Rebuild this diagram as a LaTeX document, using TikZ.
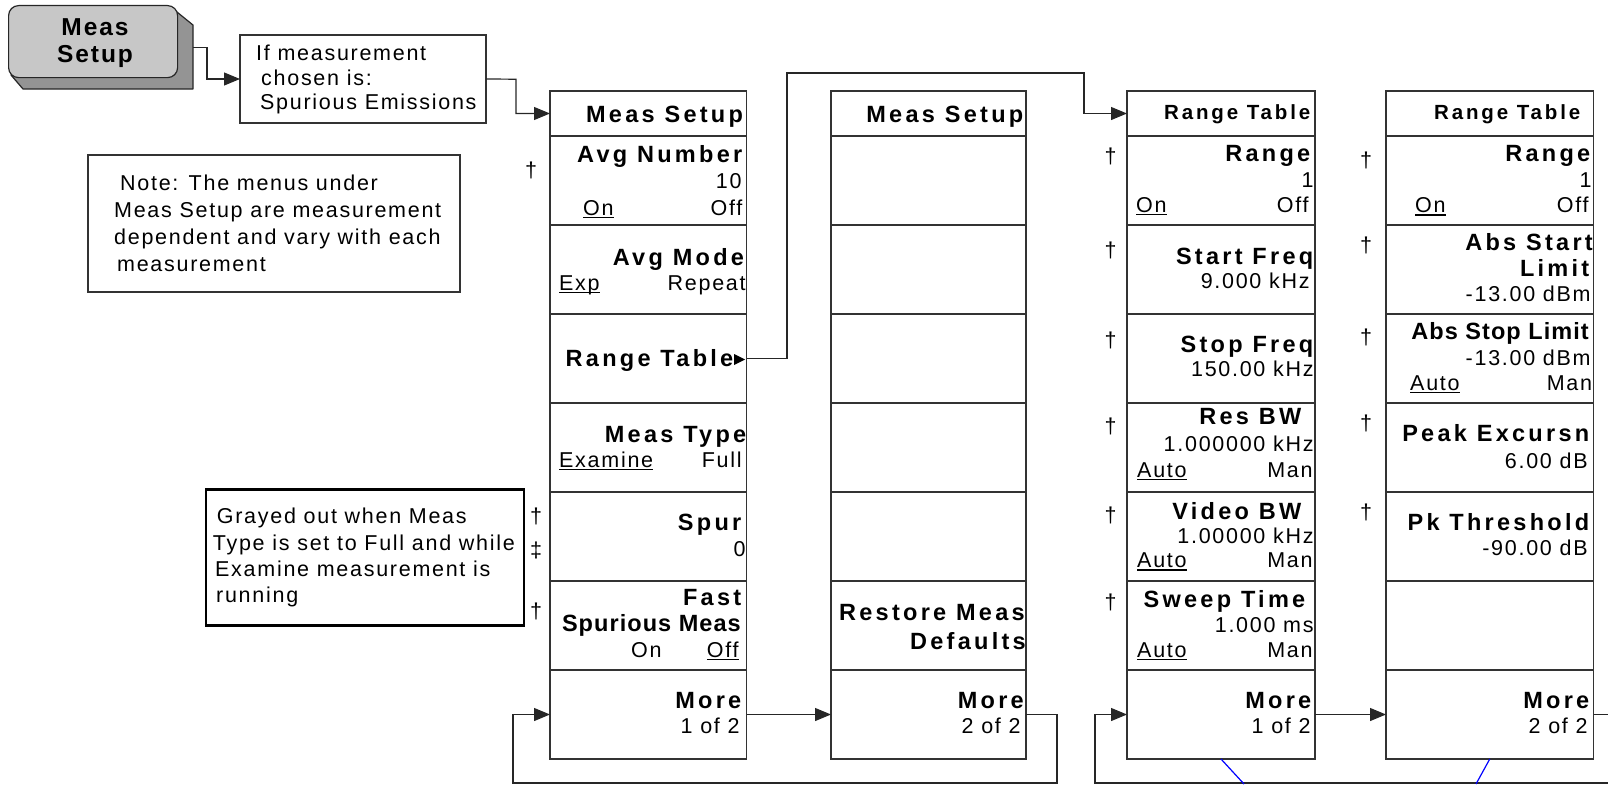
\documentclass[tikz,border=0pt]{standalone}
\usepackage{fontspec}
\setmainfont{Liberation Sans}
\newfontfamily\fB{Liberation Sans}[LetterSpace=14]
\newfontfamily\fBn{Liberation Sans}[LetterSpace=4.5]
\newfontfamily\fK{Liberation Sans}[LetterSpace=8]
\newfontfamily\fR{Liberation Sans}[LetterSpace=8]
\usetikzlibrary{arrows.meta}
\newcommand\ul[1]{\setbox0\hbox{#1}\rlap{\rule[-2.8pt]{\wd0}{1.2pt}}\box0}
\newcommand\menucol[3]{%
  \node[cell, minimum width=#3, minimum height=45] (#1h) at (#2,91) {};
  \foreach \i in {1,...,7} {
    \node[cell, minimum width=#3, minimum height=89] (#1r\i) at (#2,{136+89*(\i-1)}) {};
  }
}
\begin{document}
\begin{tikzpicture}[x=1pt,y=-1pt,
  cell/.style={draw=black!80, line width=1.2pt, fill=white, anchor=north west, inner sep=0pt, outer sep=0pt},
  bt/.style={font=\fB\bfseries\fontsize{23.5}{23.5}\selectfont, anchor=base east, inner sep=0pt, xshift=1.5pt},
  btn/.style={font=\fBn\bfseries\fontsize{23.5}{23.5}\selectfont, anchor=base east, inner sep=0pt, xshift=1pt},
  bts/.style={font=\fB\bfseries\fontsize{20.5}{20.5}\selectfont, anchor=base east, inner sep=0pt, xshift=1.5pt},
  rt/.style={font=\fR\fontsize{21.5}{21.5}\selectfont, anchor=base east, inner sep=0pt, xshift=0.8pt},
  lt/.style={font=\fR\fontsize{21.5}{21.5}\selectfont, anchor=base west, inner sep=0pt},
  dg/.style={font=\fR\fontsize{21.5}{21.5}\selectfont, anchor=base, inner sep=0pt},
  conn/.style={draw=black!85, line width=1.2pt},
  arr/.style={conn, -{Triangle[length=16pt,width=13pt]}},
  box/.style={draw=black!80, line width=1.3pt, fill=white, anchor=north west, inner sep=0pt, outer sep=0pt}
]
\useasboundingbox (0,0) rectangle (1608,784);

% ---- Meas Setup key ----
\filldraw[fill=black!42, draw=black!85, line width=1.2pt, line join=round]
  (172,8) -- (193,25) -- (193,89) -- (23,89) -- (11,75) -- cycle;
\node[draw=black!85, line width=1.2pt, fill=black!22, rounded corners=10pt,
  minimum width=169, minimum height=72, anchor=north west, inner sep=0pt] (key) at (8,5) {};
\node[font=\fK\bfseries\fontsize{24.5}{24.5}\selectfont, anchor=base, inner sep=0pt] (kt1) at (95,36) {Meas};
\node[font=\fK\bfseries\fontsize{24.5}{24.5}\selectfont, anchor=base, inner sep=0pt] (kt2) at (95,62.7) {Setup};
\coordinate (keyout) at (193,47.7);

% ---- condition box ----
\node[box, minimum width=246, minimum height=88] (cond) at (240,35) {};
\node[lt] (cd1) at (256,60.7) {If measurement};
\node[lt] (cd2) at (261,85) {chosen is:};
\node[lt] (cd3) at (260,109) {Spurious Emissions};

% ---- note box ----
\node[box, minimum width=372, minimum height=137] (note) at (88,155) {};
\node[lt] (n1) at (120,190) {Note: The menus under};
\node[lt] (n2) at (114,217) {Meas Setup are measurement};
\node[lt] (n3) at (114,244) {dependent and vary with each};
\node[lt] (n4) at (117,271) {measurement};

% ---- grayed-out box ----
\node[box, draw=black, line width=2.5pt, minimum width=318, minimum height=136] (gray) at (206,489.3) {};
\node[lt] (g1) at (216.7,523) {Grayed out when Meas};
\node[lt] (g2) at (212.7,550) {Type is set to Full and while};
\node[lt] (g3) at (215,576) {Examine measurement is};
\node[lt] (g4) at (216,602) {running};

% ---- menu columns ----
\menucol{c1}{550}{196.5}
\menucol{c2}{831}{195}
\menucol{c3}{1127}{188}
\menucol{c4}{1386}{207.5}

% column 1
\node[bt] (c1t0) at (741.7,122.5) {Meas Setup};
\node[bt] (c1t1) at (741,162.7) {Avg Number};
\node[rt] (c1t2) at (741,188.7) {10};
\node[lt] (c1t3) at (583,215) {\ul{On}};
\node[rt] (c1t4) at (741.7,215) {Off};
\node[bt] (c1t5) at (742.7,265) {Avg Mode};
\node[lt] (c1t6) at (559,290) {\ul{Exp}};
\node[rt] (c1t7) at (745,290) {Repeat};
\node[bt] (c1t8) at (732,366) {Range Table};
\fill (734,354) -- (745,359.5) -- (734,365) -- cycle;
\node[bt] (c1t9) at (745,442) {Meas Type};
\node[lt] (c1t10) at (559,467) {\ul{Examine}};
\node[rt] (c1t11) at (741,467) {Full};
\node[bt] (c1t12) at (740,530.7) {Spur};
\node[rt] (c1t13) at (745,556.7) {0};
\node[bt] (c1t14) at (740,605.7) {Fast};
\node[btn] (c1t15) at (740,631.7) {Spurious Meas};
\node[rt] (c1t16) at (661,657.3) {On};
\node[rt] (c1t17) at (738,657.3) {\ul{Off}};
\node[bt] (c1t18) at (740,708.3) {More};
\node[rt] (c1t19) at (739,733.5) {1 of 2};

% column 2
\node[bt] (c2t0) at (1022,122.5) {Meas Setup};
\node[bt] (c2t1) at (1023.5,620) {Restore Meas};
\node[bt] (c2t2) at (1024.5,649) {Defaults};
\node[bt] (c2t3) at (1022.5,708.3) {More};
\node[rt] (c2t4) at (1020,733.5) {2 of 2};

% column 3
\node[bts] (c3t0) at (1309,119.3) {Range Table};
\node[bt] (c3t1) at (1309,161) {Range};
\node[rt] (c3t2) at (1313,187.3) {1};
\node[lt] (c3t3) at (1136,212) {\ul{On}};
\node[rt] (c3t4) at (1308,212) {Off};
\node[bt] (c3t5) at (1312,264) {Start Freq};
\node[rt] (c3t6) at (1309,288.3) {9.000 kHz};
\node[bt] (c3t7) at (1312,352) {Stop Freq};
\node[rt] (c3t8) at (1313,376.7) {150.00 kHz};
\node[bt] (c3t9) at (1300,424.3) {Res BW};
\node[rt] (c3t10) at (1313,451) {1.000000 kHz};
\node[lt] (c3t11) at (1137,477) {\ul{Auto}};
\node[rt] (c3t12) at (1312,477) {Man};
\node[bt] (c3t13) at (1300,519) {Video BW};
\node[rt] (c3t14) at (1313,543.3) {1.00000 kHz};
\node[lt] (c3t15) at (1137,567.7) {\ul{Auto}};
\node[rt] (c3t16) at (1312,567.7) {Man};
\node[bt] (c3t17) at (1304,607.3) {Sweep Time};
\node[rt] (c3t18) at (1313,632.7) {1.000 ms};
\node[lt] (c3t19) at (1137,657.3) {\ul{Auto}};
\node[rt] (c3t20) at (1312,657.3) {Man};
\node[bt] (c3t21) at (1310,708.3) {More};
\node[rt] (c3t22) at (1310,733.5) {1 of 2};

% column 4
\node[bts] (c4t0) at (1579,119.3) {Range Table};
\node[bt] (c4t1) at (1589,161) {Range};
\node[rt] (c4t2) at (1591,187) {1};
\node[lt] (c4t3) at (1415,212.7) {\ul{On}};
\node[rt] (c4t4) at (1588,212.7) {Off};
\node[bt] (c4t5) at (1591.5,250) {Abs Start};
\node[bt] (c4t6) at (1588,276.7) {Limit};
\node[rt] (c4t7) at (1590,301.7) {-13.00 dBm};
\node[btn] (c4t8) at (1588,339.3) {Abs Stop Limit};
\node[rt] (c4t9) at (1590,365) {-13.00 dBm};
\node[lt] (c4t10) at (1410,390) {\ul{Auto}};
\node[rt] (c4t11) at (1591.5,390) {Man};
\node[bt] (c4t12) at (1588,441) {Peak Excursn};
\node[rt] (c4t13) at (1587,468.3) {6.00 dB};
\node[bt] (c4t14) at (1588,530.7) {Pk Threshold};
\node[rt] (c4t15) at (1587,555) {-90.00 dB};
\node[bt] (c4t16) at (1588,708.3) {More};
\node[rt] (c4t17) at (1587,733.5) {2 of 2};

% daggers
\node[dg] (d1) at (531,177) {†};
\node[dg] (d2) at (536,523.5) {†};
\node[dg] (d3) at (536,557.5) {‡};
\node[dg] (d4) at (536,618.5) {†};
\node[dg] (d5) at (1110.7,163.5) {†};
\node[dg] (d6) at (1110.7,257) {†};
\node[dg] (d7) at (1110.7,347) {†};
\node[dg] (d8) at (1110.7,433.5) {†};
\node[dg] (d9) at (1110.7,522) {†};
\node[dg] (d10) at (1110.7,609) {†};
\node[dg] (d11) at (1366,167) {†};
\node[dg] (d12) at (1366,252) {†};
\node[dg] (d13) at (1366,344) {†};
\node[dg] (d14) at (1366,430) {†};
\node[dg] (d15) at (1366,519) {†};

% ---- connectors ----
\draw[arr] (keyout) -- (207,47.7) |- (cond.west);
\draw[arr] (cond.east) -- (516,79.2) |- (c1h.west);
\draw[arr] (c1r3.east) -| (787,73) -- (1084,73) |- (c3h.west);
\draw[arr] (c1r7.east) -- (c2r7.west);
\draw[arr] (c2r7.east) -| (1057,783) -| (513,714.5) -- (c1r7.west);
\draw[arr] (c3r7.east) -- (c4r7.west);
\coordinate (edgeA) at (1608,714.5);
\coordinate (edgeB) at (1608,783);
\draw[conn] (c4r7.east) -- (edgeA);
\draw[arr] (edgeB) -| (1095,714.5) -- (c3r7.west);

% blue lines
\coordinate (b1) at (1244,784);
\coordinate (b2) at (1476,784);
\draw[blue, line width=1.2pt] (c3r7.south) -- (b1);
\draw[blue, line width=1.2pt] (c4r7.south) -- (b2);
\end{tikzpicture}
\end{document}
